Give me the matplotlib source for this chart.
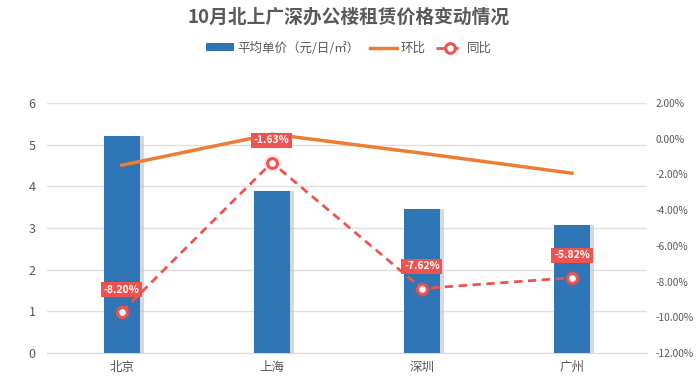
import numpy as np
import matplotlib.pyplot as plt

plt.rcParams['font.family'] = ['Noto Sans CJK SC', 'DejaVu Sans']

cities = ['北京', '上海', '深圳', '广州']
price = [5.2, 3.9, 3.45, 3.08]          # 平均单价（元/日/㎡）
mom = [-1.48, 0.26, -0.81, -1.93]       # 环比 (%)
yoy = [-9.69, -1.33, -8.39, -7.78]      # 同比 (%), plotted position
yoy_labels = ['-8.20%', '-1.63%', '-7.62%', '-5.82%']

blue = '#2e75b6'
orange = '#ed7d31'
red = '#ef5350'
grey = '#595959'

fig = plt.figure(figsize=(6.98, 3.86), dpi=100)
ax = fig.add_axes([0.067, 0.0855, 0.86, 0.6475])
x = np.arange(len(cities))

# bar shadow then bar
ax.bar(x + 0.025, price, width=0.24, color='#bfbfbf', alpha=0.6, zorder=2)
ax.bar(x, price, width=0.24, color=blue, zorder=3, label='平均单价（元/日/㎡）')

ax.set_xlim(-0.5, 3.5)
ax.set_ylim(0, 6)
ax.set_yticks(range(7))
ax.set_xticks(x)
ax.set_xticklabels(cities)
ax.grid(axis='y', color='#e0e0e0', linewidth=1, zorder=0)
ax.set_axisbelow(True)
for s in ['top', 'right', 'left']:
    ax.spines[s].set_visible(False)
ax.spines['bottom'].set_color('#d9d9d9')
ax.tick_params(axis='both', length=0, labelsize=9, colors=grey)
ax.tick_params(axis='y', pad=8)
ax.tick_params(axis='x', pad=6)

ax2 = ax.twinx()
ax2.set_ylim(-12, 2)
ax2.set_yticks(np.arange(-12, 3, 2))
ax2.set_yticklabels(['%.2f%%' % v for v in np.arange(-12, 3, 2)])
for s in ax2.spines.values():
    s.set_visible(False)
ax2.tick_params(axis='y', length=0, labelsize=7.3, colors=grey, pad=6)

ax2.plot(x, mom, color=orange, linewidth=2.5, zorder=4, label='环比')
ax2.plot(x, yoy, color=red, linewidth=2, linestyle=(0, (3, 2)), zorder=4,
         marker='o', markersize=7, markerfacecolor='white',
         markeredgecolor=red, markeredgewidth=2.2, label='同比')
ax2.scatter(x, yoy, s=160, color=red, alpha=0.15, zorder=3, linewidths=0)

for xi, yi, lab in zip(x, yoy, yoy_labels):
    ax2.annotate(lab, (xi, yi), xytext=(0, 16), textcoords='offset points',
                 ha='center', va='center', fontsize=7.5, color='white',
                 fontweight='bold', zorder=6,
                 bbox=dict(boxstyle='square,pad=0.25', fc=red, ec='none'))

fig.text(0.5, 0.955, '10月北上广深办公楼租赁价格变动情况', ha='center', va='center',
         fontsize=13.5, fontweight='bold', color=grey)

h1, l1 = ax.get_legend_handles_labels()
h2, l2 = ax2.get_legend_handles_labels()
fig.legend(h1 + h2, l1 + l2, loc='center', bbox_to_anchor=(0.5, 0.875), ncol=3,
           frameon=False, fontsize=9, labelcolor=grey, handlelength=2.2,
           handletextpad=0.3, columnspacing=0.8, handleheight=0.6)

fig.savefig('out.png', dpi=100)
